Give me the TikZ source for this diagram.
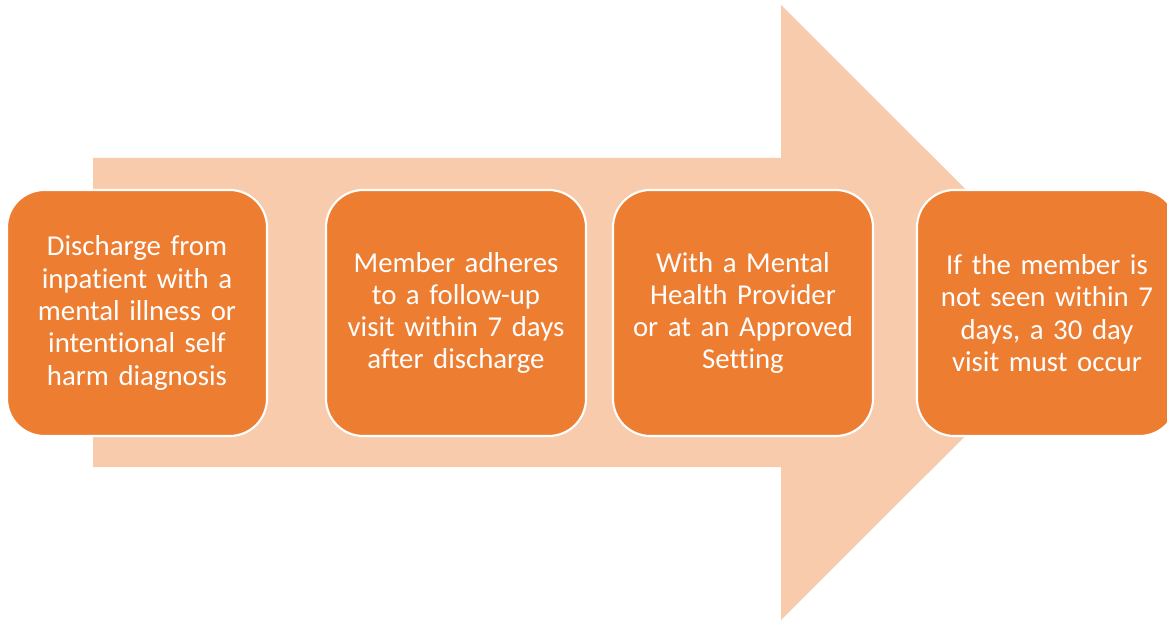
\documentclass[tikz,border=0pt]{standalone}
\usepackage{fontspec}
\setmainfont[Ligatures={NoCommon}]{Carlito}
\definecolor{boxfill}{HTML}{ED7D31}
\definecolor{arrowfill}{HTML}{F7CBAC}
\begin{document}
\begin{tikzpicture}[x=0.75pt,y=-0.75pt,
  stepbox/.style={draw=white,line width=1.6pt,fill=boxfill,rounded corners=28pt,
    minimum width=195pt,minimum height=184.5pt,text width=185pt,align=center,
    text=white,font=\fontsize{21.6}{24.2}\selectfont,inner sep=0pt}]
\useasboundingbox (0,0) rectangle (1167,623);
\clip (0,0) rectangle (1167,623);
\fill[arrowfill] (93,158) -- (781,158) -- (781,5) -- (1089,312.5) -- (781,620) -- (781,467) -- (93,467) -- cycle;
\node[stepbox] (b1) at (137,313) {Discharge from\\inpatient with a\\mental illness or\\intentional self\\harm diagnosis};
\node[stepbox] (b2) at (456,313) {Member adheres\\to a follow-up\\visit within 7 days\\after discharge};
\node[stepbox] (b3) at (743,313) {With a Mental\\Health Provider\\or at an Approved\\Setting};
\node[stepbox] (b4) at (1047,313) {If the member is\\not seen within 7\\days, a 30 day\\visit must occur};
\end{tikzpicture}
\end{document}
